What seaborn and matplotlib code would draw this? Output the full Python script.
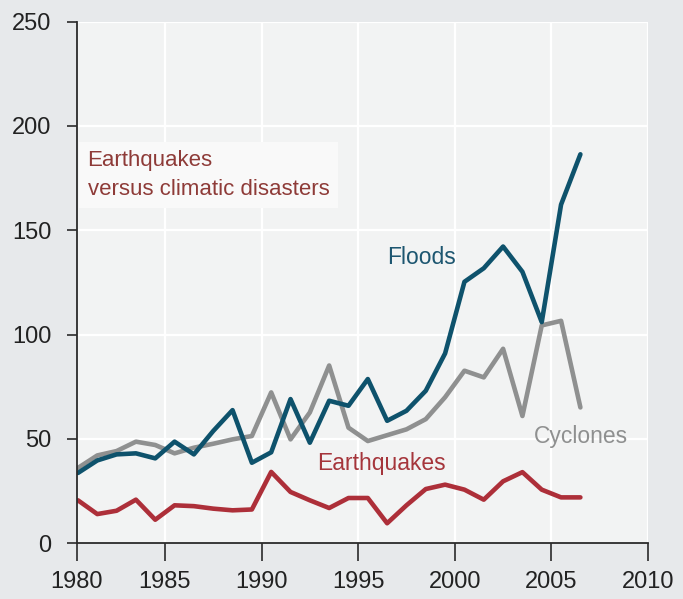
import pandas as pd
import numpy as np
import matplotlib
matplotlib.use("Agg")
import matplotlib.pyplot as plt
import seaborn as sns

# values (number of events per year)
years = list(range(1980, 2007))
floods = [33.7, 39.7, 42.6, 43.1, 40.7, 48.7, 42.6, 53.8, 63.8, 38.6,
          43.6, 69.1, 48.2, 68.3, 65.9, 78.7, 58.7, 63.5, 73.1, 91.0,
          125.3, 131.8, 142.2, 130.1, 106.0, 162.3, 186.4]
cyclones = [36.1, 42.1, 44.2, 48.7, 47.1, 43.1, 45.8, 47.7, 49.8, 51.4,
            72.3, 49.8, 62.7, 85.2, 55.4, 49.0, 51.8, 54.6, 59.5, 70.0,
            82.7, 79.5, 93.2, 61.0, 104.4, 106.6, 65.1]
earthquakes = [20.6, 14.0, 15.6, 20.9, 11.3, 18.2, 17.8, 16.6, 15.8, 16.2,
               34.2, 24.6, 20.6, 16.9, 21.7, 21.7, 9.6, 18.2, 26.0, 28.1,
               25.7, 20.9, 29.7, 34.1, 25.7, 22.0, 22.0]

tick_years = [1980, 1985, 1990, 1995, 2000, 2005, 2010]

series_names = ["Cyclones", "Floods", "Earthquakes"]
colors = {"Cyclones": "#8f9090", "Floods": "#0e526c", "Earthquakes": "#ad2f39"}

# yearly totals plotted at mid-year
x_mid = [y + 0.5 for y in years]
df = pd.DataFrame({
    "year": x_mid * 3,
    "count": cyclones + floods + earthquakes,
    "type": ["Cyclones"] * len(years) + ["Floods"] * len(years) + ["Earthquakes"] * len(years),
})

sns.set_theme(style="whitegrid")
plt.rcParams["font.family"] = ["Liberation Sans", "DejaVu Sans"]

fig = plt.figure(figsize=(6.83, 5.99), dpi=100, facecolor="#e7e9eb")
ax = fig.add_axes([0.1127, 0.093, 0.8361, 0.871])
ax.set_facecolor("#f2f3f3")

sns.lineplot(data=df, x="year", y="count", hue="type", hue_order=series_names,
             palette=colors, lw=3.3, legend=False, ax=ax)

# the original axis starts a little after 1980 but carries the 1980 tick at its edge
x0 = 1980.45
ax.set_xlim(x0, 2010)
ax.set_ylim(0, 250)
ax.set_xticks([x0] + tick_years[1:])
ax.set_xticklabels([str(t) for t in tick_years])
ax.set_yticks(range(0, 251, 50))
ax.set_xlabel("")
ax.set_ylabel("")

ax.grid(True, color="white", lw=1.6)
for s in ["top", "right"]:
    ax.spines[s].set_visible(False)
for s in ["left", "bottom"]:
    ax.spines[s].set_color("#2a2a2a")
    ax.spines[s].set_linewidth(1.3)

ax.tick_params(axis="y", left=True, length=7.5, width=1.2, pad=11,
               color="#2a2a2a", labelsize=17, labelcolor="#222222")
ax.tick_params(axis="x", bottom=True, length=13, width=1.2, pad=7,
               color="#2a2a2a", labelsize=17, labelcolor="#222222")

# inline labels
ax.text(1996.5, 137, "Floods", color="#1d5670", fontsize=16.5, va="center")
ax.text(2004.1, 51, "Cyclones", color="#8f9090", fontsize=16.5, va="center")
ax.text(1992.9, 38, "Earthquakes", color="#a5353b", fontsize=16.5, va="center")
ax.text(1981.0, 176.5, "Earthquakes\nversus climatic disasters", color="#8e3b38",
        fontsize=16, va="center", linespacing=1.45,
        bbox=dict(facecolor="#f9f9f9", edgecolor="none", pad=6))

fig.savefig("out.png", dpi=100, facecolor=fig.get_facecolor())
